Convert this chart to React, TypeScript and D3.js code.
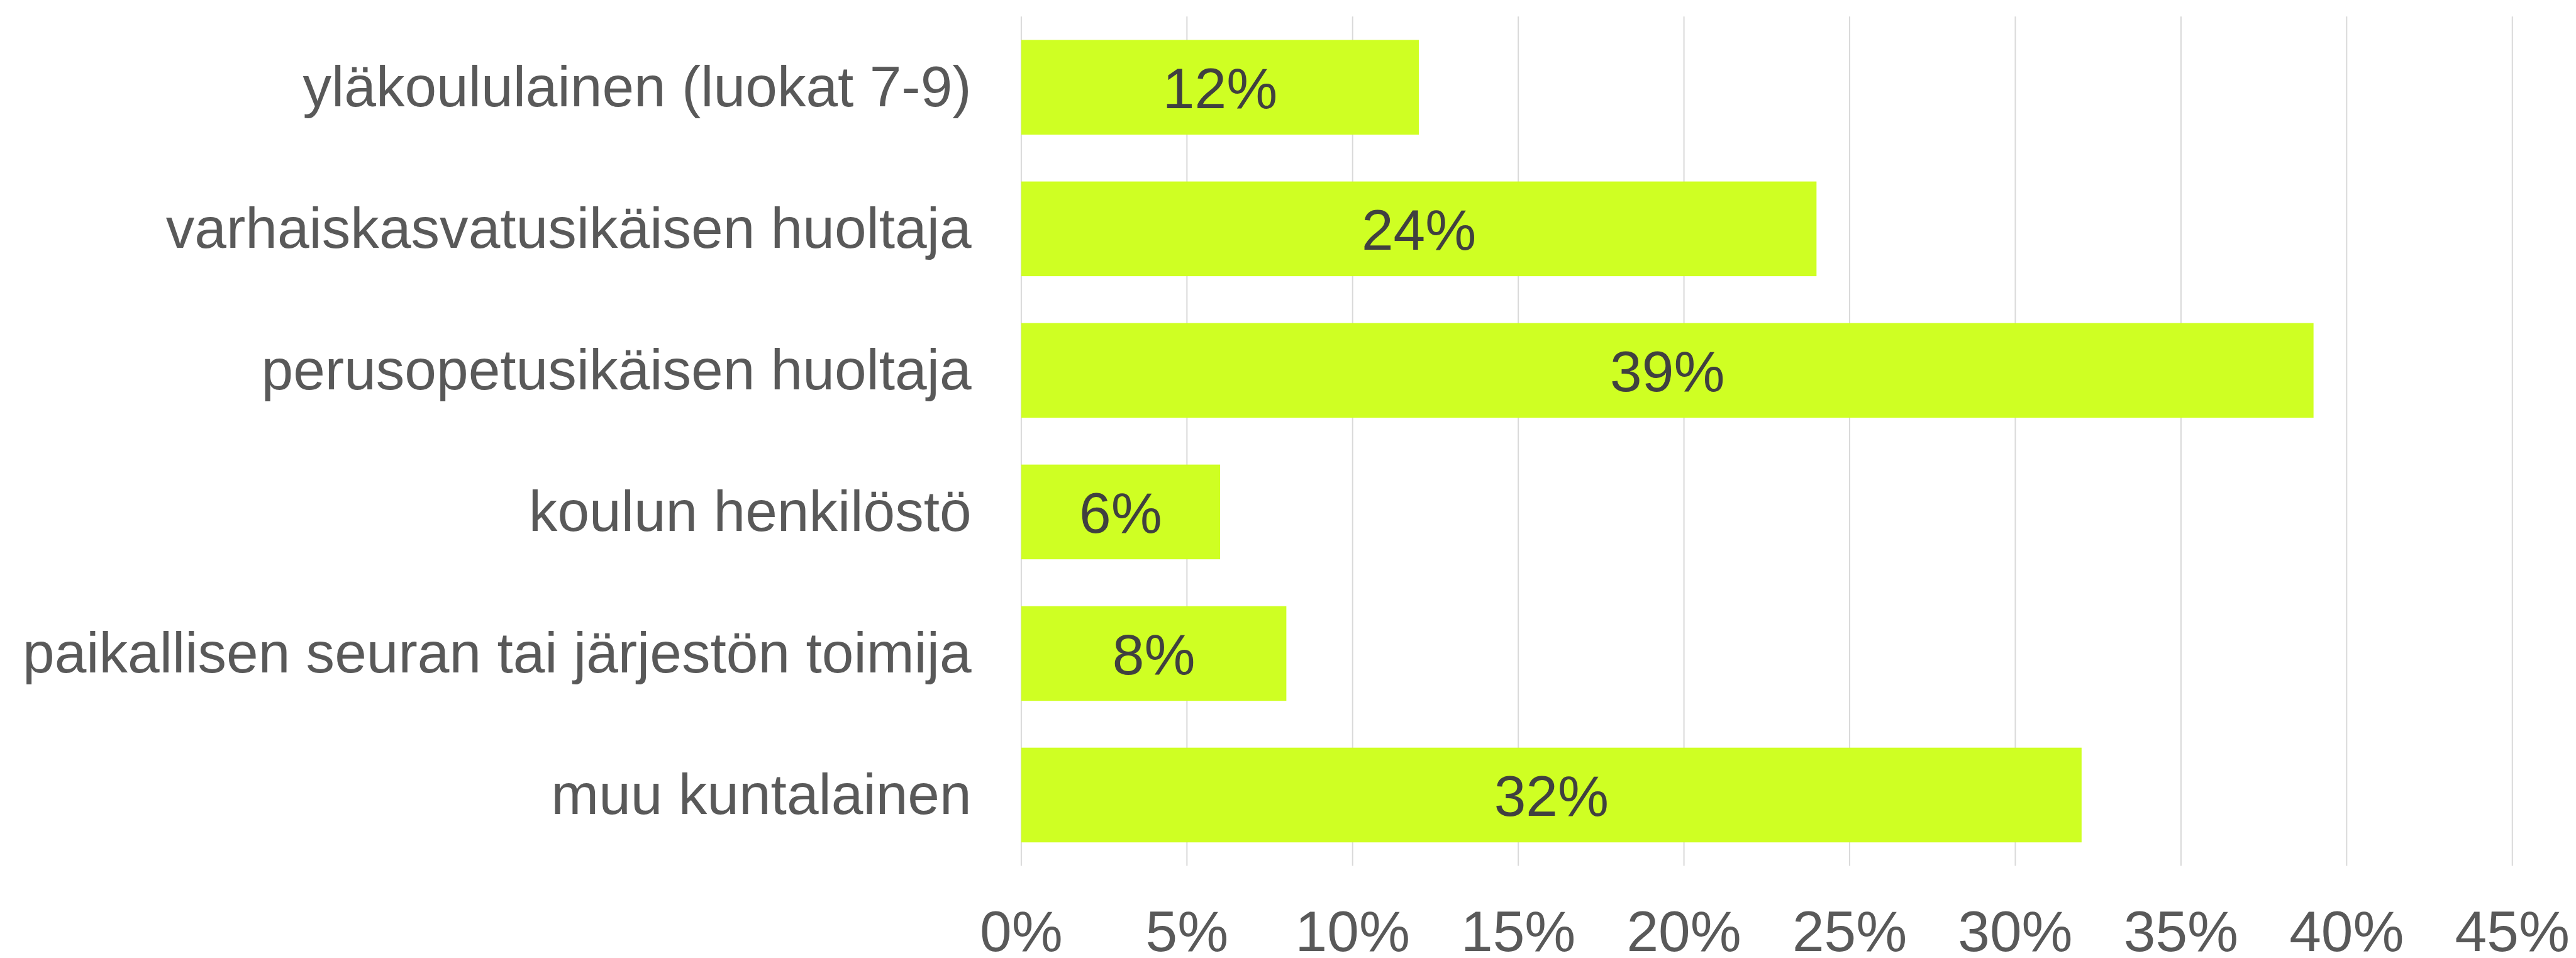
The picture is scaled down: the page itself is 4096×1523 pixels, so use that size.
import React from "react";
import * as d3 from "d3";

const categories = [
  "yläkoululainen (luokat 7-9)",
  "varhaiskasvatusikäisen huoltaja",
  "perusopetusikäisen huoltaja",
  "koulun henkilöstö",
  "paikallisen seuran tai järjestön toimija",
  "muu kuntalainen",
];
const values = [12, 24, 39, 6, 8, 32];
const xTicks = [0, 5, 10, 15, 20, 25, 30, 35, 40, 45];

const S = 4096 / 4317;
const W = 4096;
const H = 1523;
const FONT = "'Liberation Sans', Arial, sans-serif";

export default function App() {
  const x0 = 1711.5 * S;
  const x1 = 4210.3 * S;
  const yTop = 27.7 * S;
  const yBot = 1450.7 * S;
  const fs = 96 * S;

  const x = d3.scaleLinear().domain([0, 45]).range([x0, x1]);
  const y = d3
    .scaleBand<string>()
    .domain(categories)
    .range([yTop, yBot])
    .paddingInner(0.331)
    .paddingOuter(0.1655);

  return (
    <svg
      width={W}
      height={H}
      style={{ position: "absolute", left: 0, top: 0, background: "#fff" }}
      fontFamily={FONT}
    >
      <rect x={0} y={0} width={W} height={H} fill="#ffffff" />
      {xTicks.map((t) => (
        <line
          key={"g" + t}
          x1={x(t)}
          x2={x(t)}
          y1={yTop}
          y2={yBot}
          stroke="#d9d9d9"
          strokeWidth={2}
        />
      ))}
      {categories.map((c, i) => {
        const by = y(c)!;
        const bh = y.bandwidth();
        return (
          <g key={c}>
            <rect
              x={x(0)}
              y={by}
              width={x(values[i]) - x(0)}
              height={bh}
              fill="#cfff23"
            />
            <text
              x={(x(0) + x(values[i])) / 2}
              y={by + bh / 2}
              dy="0.36em"
              textAnchor="middle"
              fontSize={fs}
              fill="#404040"
            >
              {values[i] + "%"}
            </text>
            <text
              x={1628 * S}
              y={by + bh / 2}
              dy="0.33em"
              textAnchor="end"
              fontSize={fs}
              fill="#595959"
            >
              {c}
            </text>
          </g>
        );
      })}
      {xTicks.map((t) => (
        <text
          key={"t" + t}
          x={x(t)}
          y={1594 * S}
          textAnchor="middle"
          fontSize={fs}
          fill="#595959"
        >
          {t + "%"}
        </text>
      ))}
    </svg>
  );
}
